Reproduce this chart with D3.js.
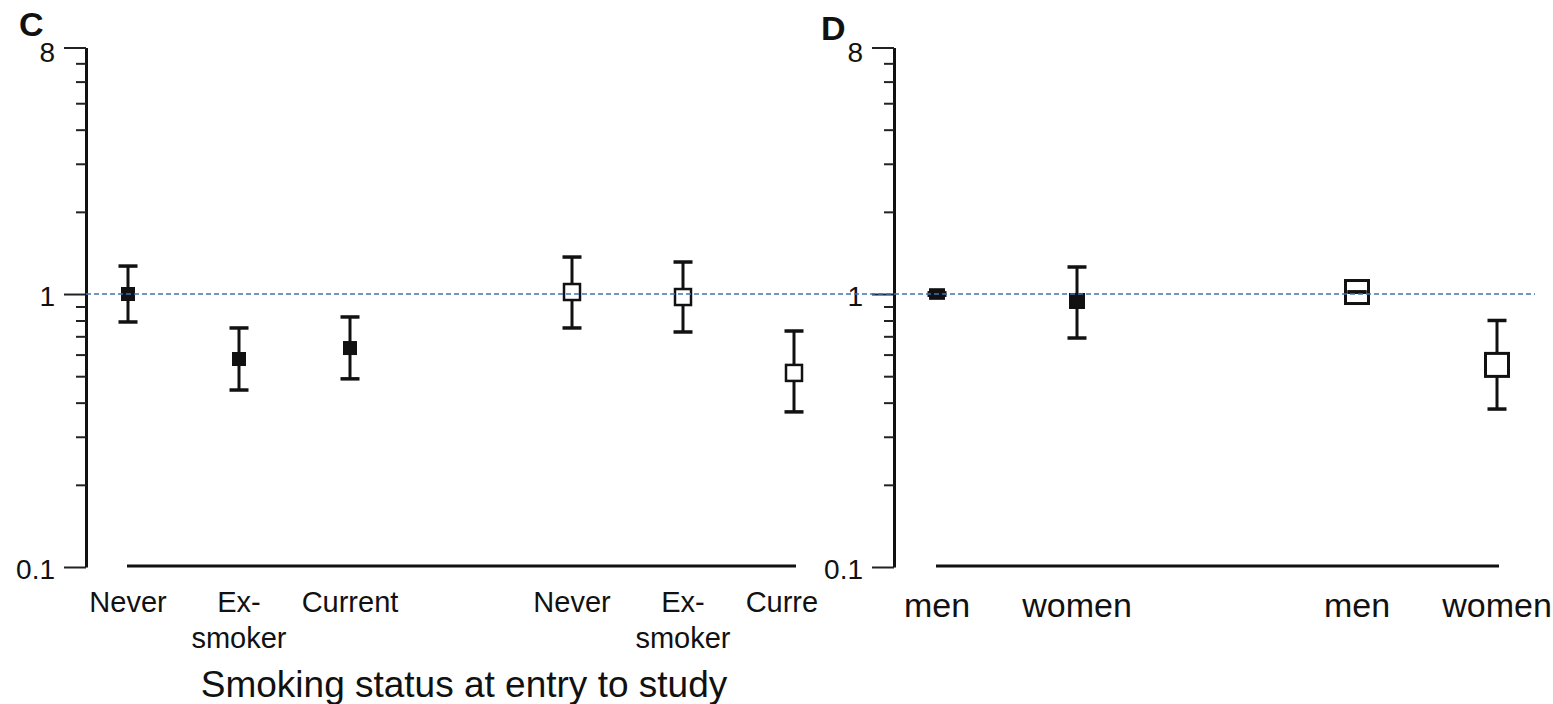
<!DOCTYPE html>
<html>
<head>
<meta charset="utf-8">
<script src="https://cdn.jsdelivr.net/npm/d3@7"></script>
<style>
  html, body { margin: 0; padding: 0; background: #fff; }
  svg { display: block; }
  text { font-family: "Liberation Sans", Arial, Helvetica, sans-serif; fill: #111; }
</style>
</head>
<body>
<svg id="chart" width="1553" height="704"></svg>
<script>
// ---- Data ----
const tickValues = [8, 1, 0.1];
const tickLabels = ["8", "1", "0.1"];
const minorTickValues = [7, 6, 5, 4, 3, 2, 0.9, 0.8, 0.7, 0.6, 0.5, 0.4, 0.3, 0.2];

const panelCCategories = ["Never", "Ex-|smoker", "Current", "Never", "Ex-|smoker", "Current"];
const panelCSlots = [0, 1, 2, 4, 5, 6];
const panelCEstimate = [1.0, 0.578, 0.634, 1.017, 0.975, 0.514];
const panelCLower = [0.79, 0.445, 0.489, 0.751, 0.726, 0.37];
const panelCUpper = [1.266, 0.751, 0.824, 1.366, 1.31, 0.732];
const panelCFilled = [true, true, true, false, false, false];

const panelDCategories = ["men", "women", "men", "women"];
const panelDSlots = [0, 1, 3, 4];
const panelDEstimate = [1.0, 0.943, 1.017, 0.55];
const panelDLower = [0.99, 0.69, 1.017, 0.379];
const panelDUpper = [1.01, 1.256, 1.017, 0.80];
const panelDFilled = [true, true, false, false];

const referenceValue = 1;

// ---- Drawing ----
const svg = d3.select("#chart");
const y = d3.scaleLog().domain([0.1, 8]).range([567, 47.5]);

svg.append("defs").append("clipPath").attr("id", "clipC")
  .append("rect").attr("x", 0).attr("y", 0).attr("width", 818).attr("height", 704);

function drawPanel(cfg) {
  const g = svg.append("g");
  const x = d3.scaleLinear().domain(cfg.slotDomain).range(cfg.xRange);

  // y axis (major ticks with labels)
  const axisMajor = d3.axisLeft(y).tickValues(tickValues)
    .tickFormat((d, i) => tickLabels[i]).tickSize(22).tickSizeOuter(0).tickPadding(9);
  const ga = g.append("g").attr("transform", `translate(${cfg.axisX},0)`).call(axisMajor);
  ga.select(".domain").attr("stroke", "#111").attr("stroke-width", 3);
  ga.selectAll(".tick line").attr("stroke", "#222").attr("stroke-width", 2);
  ga.selectAll(".tick text").style("font-size", "28px").attr("fill", "#111")
    .attr("font-family", '"Liberation Sans", Arial, sans-serif')
    .attr("dy", (d) => d === 8 ? "0.5em" : "0.4em");

  const axisMinor = d3.axisLeft(y).tickValues(minorTickValues)
    .tickFormat("").tickSize(10).tickSizeOuter(0);
  const gm = g.append("g").attr("transform", `translate(${cfg.axisX},0)`).call(axisMinor);
  gm.select(".domain").remove();
  gm.selectAll(".tick line").attr("stroke", "#222").attr("stroke-width", 2);

  // x baseline
  const xs = cfg.slots.map(s => x(s));
  g.append("line")
    .attr("x1", d3.min(xs) - 1).attr("x2", d3.max(xs) + 2)
    .attr("y1", y(0.1) - 1).attr("y2", y(0.1) - 1)
    .attr("stroke", "#111").attr("stroke-width", 3);

  // category labels
  const lg = g.append("g");
  if (cfg.clip) lg.attr("clip-path", `url(#${cfg.clip})`);
  cfg.categories.forEach((c, i) => {
    const t = lg.append("text").attr("text-anchor", "middle")
      .attr("x", x(cfg.slots[i])).attr("y", cfg.labelY)
      .style("font-size", cfg.labelSize + "px");
    c.split("|").forEach((line, k) => {
      t.append("tspan").attr("x", x(cfg.slots[i])).attr("dy", k === 0 ? 0 : cfg.lineGap).text(line);
    });
  });

  // panel letter
  g.append("text").attr("x", cfg.letterX).attr("y", cfg.letterY)
    .style("font-size", "34px").style("font-weight", "bold").text(cfg.letter);

  // points
  cfg.estimate.forEach((v, i) => {
    const cx = x(cfg.slots[i]);
    const lo = cfg.lower[i], hi = cfg.upper[i];
    g.append("line").attr("x1", cx).attr("x2", cx).attr("y1", y(hi)).attr("y2", y(lo))
      .attr("stroke", "#111").attr("stroke-width", 3);
    const s = cfg.filled[i] ? cfg.filledSize : cfg.openSize;
    const h = cfg.filled[i] && lo > 0.98 && hi < 1.02 ? s * 0.7 : s;
    g.append("rect").attr("x", cx - s / 2).attr("y", y(v) - h / 2)
      .attr("width", s).attr("height", h)
      .attr("fill", cfg.filled[i] ? "#111" : "#fff")
      .attr("stroke", "#111").attr("stroke-width", cfg.filled[i] ? 1 : cfg.openStroke);
    [lo, hi].forEach(b => {
      g.append("line").attr("x1", cx - cfg.capW / 2).attr("x2", cx + cfg.capW / 2)
        .attr("y1", y(b)).attr("y2", y(b))
        .attr("stroke", "#111").attr("stroke-width", 3.5);
    });
  });
  return g;
}

drawPanel({
  axisX: 86, slotDomain: [0, 6], xRange: [128, 794],
  categories: panelCCategories, slots: panelCSlots,
  estimate: panelCEstimate, lower: panelCLower, upper: panelCUpper, filled: panelCFilled,
  labelY: 612, labelSize: 29, lineGap: 36, clip: "clipC",
  letter: "C", letterX: 19, letterY: 36,
  filledSize: 13, openSize: 16, openStroke: 2.5, capW: 19
});

drawPanel({
  axisX: 894, slotDomain: [0, 4], xRange: [937, 1497],
  categories: panelDCategories, slots: panelDSlots,
  estimate: panelDEstimate, lower: panelDLower, upper: panelDUpper, filled: panelDFilled,
  labelY: 617, labelSize: 34, lineGap: 36, clip: null,
  letter: "D", letterX: 821, letterY: 40,
  filledSize: 15, openSize: 23, openStroke: 3, capW: 19
});

// reference line at 1
svg.append("line").attr("x1", 86).attr("x2", 1535)
  .attr("y1", y(referenceValue)).attr("y2", y(referenceValue))
  .attr("stroke", "#3f72b8").attr("stroke-width", 1.5).attr("stroke-dasharray", "5,3");

// x-axis title
svg.append("text").attr("x", 464).attr("y", 697).attr("text-anchor", "middle")
  .style("font-size", "37px").text("Smoking status at entry to study");
</script>
</body>
</html>
